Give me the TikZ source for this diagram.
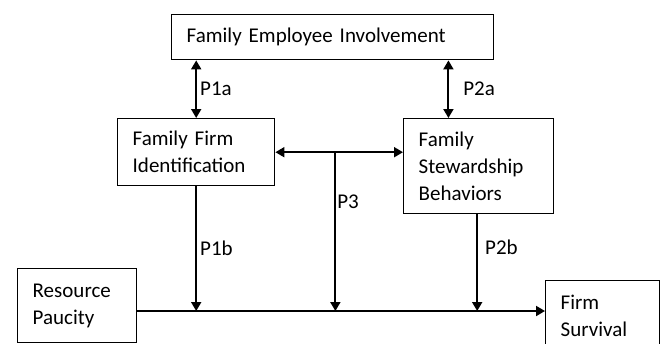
\documentclass[tikz,border=0pt]{standalone}
\usepackage{fontspec}
\setmainfont{Carlito}
\usetikzlibrary{calc, positioning, arrows.meta}

\begin{document}
\begin{tikzpicture}[x=1pt, y=-1pt,
    box/.style={draw, line width=1.4pt, anchor=north west, inner xsep=15pt, inner ysep=0pt, align=left, font=\fontsize{21}{27}\selectfont},
    link/.style={line width=1.9pt, -{Triangle[length=9pt,width=10pt]}},
    both/.style={line width=1.9pt, {Triangle[length=9pt,width=10pt]}-{Triangle[length=9pt,width=10pt]}},
    lbl/.style={font=\fontsize{21}{24}\selectfont, inner sep=3pt}]
    \useasboundingbox (0,0) rectangle (660,343);
    \clip (0,0) rectangle (660,343);

    % Kaesten
    \node[box, text width=292pt, minimum height=45pt] (fei) at (171,14) {Family Employee Involvement};
    \node[box, text width=127pt, minimum height=67pt] (ffi) at (117,118) {Family Firm\\Identification};
    \node[box, text width=120pt, minimum height=95pt] (fsb) at (403,118) {Family\\Stewardship\\Behaviors};
    \node[box, text width=89pt, minimum height=74pt] (res) at (17,268) {Resource\\Paucity};
    \node[box, text width=84pt, minimum height=71pt] (fs) at (545,280) {Firm\\Survival};

    % Hilfspunkte
    \coordinate (resout) at ($(res.north east)+(0,43)$);
    \coordinate (p2top) at ($(fsb.north west)!0.3!(fsb.north east)$);
    \coordinate (p2bot) at ($(fsb.south west)!0.49!(fsb.south east)$);
    \coordinate (p3top) at ($(ffi.east)!0.47!(ffi.east -| fsb.west)$);

    % Pfeile
    \draw[both] (ffi.north) -- (ffi.north |- fei.south) node[lbl, midway, right] (p1a) {P1a};
    \draw[both] (p2top) -- (p2top |- fei.south) node[lbl, midway, right=11pt] (p2a) {P2a};
    \draw[both] (ffi.east) -- (ffi.east -| fsb.west);
    \draw[link] (p3top) -- (p3top |- resout) node[lbl, pos=0.31, right, inner sep=1pt] (p3) {P3};
    \draw[link] (ffi.south) -- (ffi.south |- resout) node[lbl, midway, right] (p1b) {P1b};
    \draw[link] (p2bot) -- (p2bot |- resout) node[lbl, pos=0.34, right=4pt] (p2b) {P2b};
    \draw[link] (resout) -- (resout -| fs.west);
\end{tikzpicture}
\end{document}
